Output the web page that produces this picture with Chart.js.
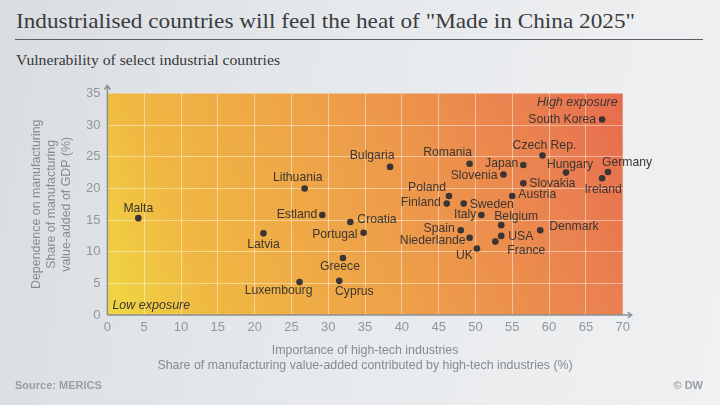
<!DOCTYPE html>
<html>
<head>
<meta charset="utf-8">
<script src="https://cdn.jsdelivr.net/npm/chart.js@4.4.1/dist/chart.umd.min.js"></script>
<style>
  html, body { margin: 0; padding: 0; }
  #wrap {
    position: relative; width: 720px; height: 405px; overflow: hidden;
    background: linear-gradient(100deg, #d9dde1 0%, #e6e9ec 45%, #f0f1f2 100%);
    font-family: "Liberation Sans", Arial, sans-serif;
  }
  #title {
    position: absolute; left: 16px; top: 8px; margin: 0;
    font: 22px "Liberation Serif", serif; color: #3a3c3e; white-space: nowrap;
    transform-origin: left top;
  }
  #rule { position: absolute; left: 15px; top: 39px; width: 688px; height: 0; border-top: 1.6px solid #5a5e62; }
  #sub {
    position: absolute; left: 16px; top: 52px; margin: 0;
    font: 15px "Liberation Serif", serif; color: #35383a; white-space: nowrap;
    transform-origin: left top;
  }
  #chart { position: absolute; left: 0; top: 0; }
  .foot { position: absolute; top: 379px; font-weight: bold; font-size: 11px; color: #9a9ea2; }
</style>
</head>
<body>
<div id="wrap">
  <div id="title">Industrialised countries will feel the heat of "Made in China 2025"</div>
  <div id="rule"></div>
  <div id="sub">Vulnerability of select industrial countries</div>
  <canvas id="chart" width="720" height="405"></canvas>
  <div class="foot" style="left:15px">Source: MERICS</div>
  <div class="foot" style="right:17px">© DW</div>
</div>
<script>
const countries = ['Malta', 'Lithuania', 'Estland', 'Portugal', 'Latvia', 'Greece', 'Luxembourg', 'Cyprus',
  'Croatia', 'Bulgaria', 'Romania', 'Japan', 'Czech Rep.', 'Hungary', 'Germany', 'Ireland', 'South Korea',
  'Slovenia', 'Slovakia', 'Austria', 'Poland', 'Finland', 'Sweden', 'Italy', 'Belgium', 'Denmark', 'Spain',
  'USA', 'Niederlande', 'France', 'UK'];
// importance of high-tech industries (%)
const highTech = [4.2, 26.8, 29.2, 34.8, 21.2, 32.0, 26.1, 31.5,
  33.0, 38.4, 49.2, 56.5, 59.1, 62.3, 68.0, 67.2, 67.2,
  53.8, 56.5, 55.0, 46.4, 46.1, 48.4, 50.8, 53.5, 58.8, 48.0,
  53.5, 49.2, 52.7, 50.2];
// dependence on manufacturing (%)
const manufacturing = [15.3, 20.0, 15.8, 13.0, 12.9, 9.0, 5.2, 5.4,
  14.7, 23.4, 23.9, 23.7, 25.2, 22.5, 22.6, 21.6, 30.9,
  22.2, 20.8, 18.8, 18.8, 17.6, 17.6, 15.8, 14.2, 13.4, 13.4,
  12.5, 12.2, 11.6, 10.5];
const xTicks = [0, 5, 10, 15, 20, 25, 30, 35, 40, 45, 50, 55, 60, 65, 70];
const yTicks = [0, 5, 10, 15, 20, 25, 30, 35];

// fit header texts to the reference widths
function fit(id, w) {
  const el = document.getElementById(id);
  el.style.transform = 'scaleX(' + (w / el.getBoundingClientRect().width) + ')';
}
fit('title', 619);
fit('sub', 264);

// label placement around each dot: [dx, dy, align]
const place = {
  'Malta': [0, -10, 'center'], 'Lithuania': [-7, -11, 'center'], 'Estland': [-5, 0, 'right'],
  'Portugal': [-6, 2, 'right'], 'Latvia': [0, 11, 'center'], 'Greece': [-3, 9, 'center'],
  'Luxembourg': [-21, 9, 'center'], 'Cyprus': [15, 11, 'center'], 'Croatia': [7, -2, 'left'],
  'Bulgaria': [-18, -11, 'center'], 'Romania': [-22, -11, 'center'], 'Japan': [-5, -1, 'right'],
  'Czech Rep.': [2, -10, 'center'], 'Hungary': [4, -8, 'center'], 'Germany': [-6, -9, 'left'],
  'Ireland': [1, 11, 'center'], 'South Korea': [-6, 0, 'right'], 'Slovenia': [-6, 1, 'right'],
  'Slovakia': [6, 0, 'left'], 'Austria': [6, -1, 'left'], 'Poland': [-3, -8, 'right'],
  'Finland': [-6, -1, 'right'], 'Sweden': [6, 1, 'left'], 'Italy': [-5, 0, 'right'],
  'Belgium': [15, -9, 'center'], 'Denmark': [9, -4, 'left'], 'Spain': [-6, -2, 'right'],
  'USA': [7, 1, 'left'], 'Niederlande': [-4, 3, 'right'], 'France': [12, 9, 'left'], 'UK': [-4, 7, 'right']
};

const plotBg = {
  id: 'plotBg',
  beforeDraw(chart) {
    const { ctx, chartArea: a } = chart;
    const g = ctx.createLinearGradient(a.left, a.bottom, a.right, a.top);
    g.addColorStop(0, '#efd843');
    g.addColorStop(0.18, '#f0b842');
    g.addColorStop(0.5, '#eea049');
    g.addColorStop(0.85, '#ea7f50');
    g.addColorStop(1, '#e76b4e');
    ctx.save();
    ctx.fillStyle = g;
    ctx.fillRect(a.left, a.top, a.right - a.left, a.bottom - a.top);
    ctx.restore();
  },
  afterDraw(chart) {
    const { ctx, chartArea: a } = chart;
    ctx.save();
    ctx.strokeStyle = '#8a9096';
    ctx.lineWidth = 1.5;
    ctx.beginPath();
    ctx.moveTo(a.left, a.bottom); ctx.lineTo(a.left, a.top - 8);
    ctx.moveTo(a.left - 3, a.top - 4); ctx.lineTo(a.left, a.top - 8); ctx.lineTo(a.left + 3, a.top - 4);
    ctx.moveTo(a.left, a.bottom); ctx.lineTo(a.right + 9, a.bottom);
    ctx.moveTo(a.right + 5, a.bottom - 3); ctx.lineTo(a.right + 9, a.bottom); ctx.lineTo(a.right + 5, a.bottom + 3);
    ctx.stroke();
    ctx.fillStyle = '#3b3633';
    ctx.font = 'italic 12.5px "Liberation Sans", Arial, sans-serif';
    ctx.textBaseline = 'middle';
    ctx.textAlign = 'left';
    ctx.fillText('Low exposure', a.left + 5, a.bottom - 9);
    ctx.textAlign = 'right';
    ctx.fillText('High exposure', a.right - 5, a.top + 9);
    ctx.restore();
  }
};

const pointLabels = {
  id: 'pointLabels',
  afterDatasetsDraw(chart) {
    const { ctx } = chart;
    const meta = chart.getDatasetMeta(0);
    ctx.save();
    ctx.fillStyle = '#3b3633';
    ctx.font = '12.2px "Liberation Sans", Arial, sans-serif';
    ctx.textBaseline = 'middle';
    meta.data.forEach((pt, i) => {
      const p = place[countries[i]] || [6, 0, 'left'];
      ctx.textAlign = p[2];
      ctx.fillText(countries[i], pt.x + p[0], pt.y + p[1]);
    });
    ctx.restore();
  }
};

const gridColor = (max) => c => (c.tick.value === 0 || c.tick.value === max) ? 'rgba(0,0,0,0)' : 'rgba(255,255,255,0.45)';
const tickFont = { family: '"Liberation Sans", Arial, sans-serif', size: 13 };
const titleFont = { family: '"Liberation Sans", Arial, sans-serif', size: 12.4 };

new Chart(document.getElementById('chart'), {
  type: 'scatter',
  data: {
    datasets: [{
      data: highTech.map((x, i) => ({ x, y: manufacturing[i] })),
      pointRadius: 3.3,
      pointHoverRadius: 3.3,
      pointBackgroundColor: '#3a3434',
      pointBorderWidth: 0
    }]
  },
  options: {
    responsive: false,
    animation: false,
    layout: { padding: { top: 93.5, right: 97.3, left: 0, bottom: 0 } },
    plugins: { legend: { display: false }, tooltip: { enabled: false } },
    scales: {
      x: {
        min: 0, max: 70,
        afterBuildTicks: s => { s.ticks = xTicks.map(v => ({ value: v })); },
        afterFit: s => { s.height = 90; },
        grid: { color: gridColor(70), lineWidth: 1, drawTicks: false },
        border: { display: false },
        ticks: { color: '#8f969c', font: tickFont, padding: 5, maxRotation: 0 },
        title: {
          display: true,
          text: ['Importance of high-tech industries',
            'Share of manufacturing value-added contributed by high-tech industries (%)'],
          color: '#858c92', font: titleFont, padding: { bottom: 32 }
        }
      },
      y: {
        min: 0, max: 35,
        afterBuildTicks: s => { s.ticks = yTicks.map(v => ({ value: v })); },
        afterFit: s => { s.width = 107.4; },
        grid: { color: gridColor(35), lineWidth: 1, drawTicks: false },
        border: { display: false },
        ticks: { color: '#8f969c', font: tickFont, padding: 7 },
        title: {
          display: true,
          text: ['Dependence on manufacturing', 'Share of manufacturing', 'value-added of GDP (%)'],
          color: '#858c92', font: titleFont, padding: { top: 29 }
        }
      }
    }
  },
  plugins: [plotBg, pointLabels]
});
</script>
</body>
</html>
